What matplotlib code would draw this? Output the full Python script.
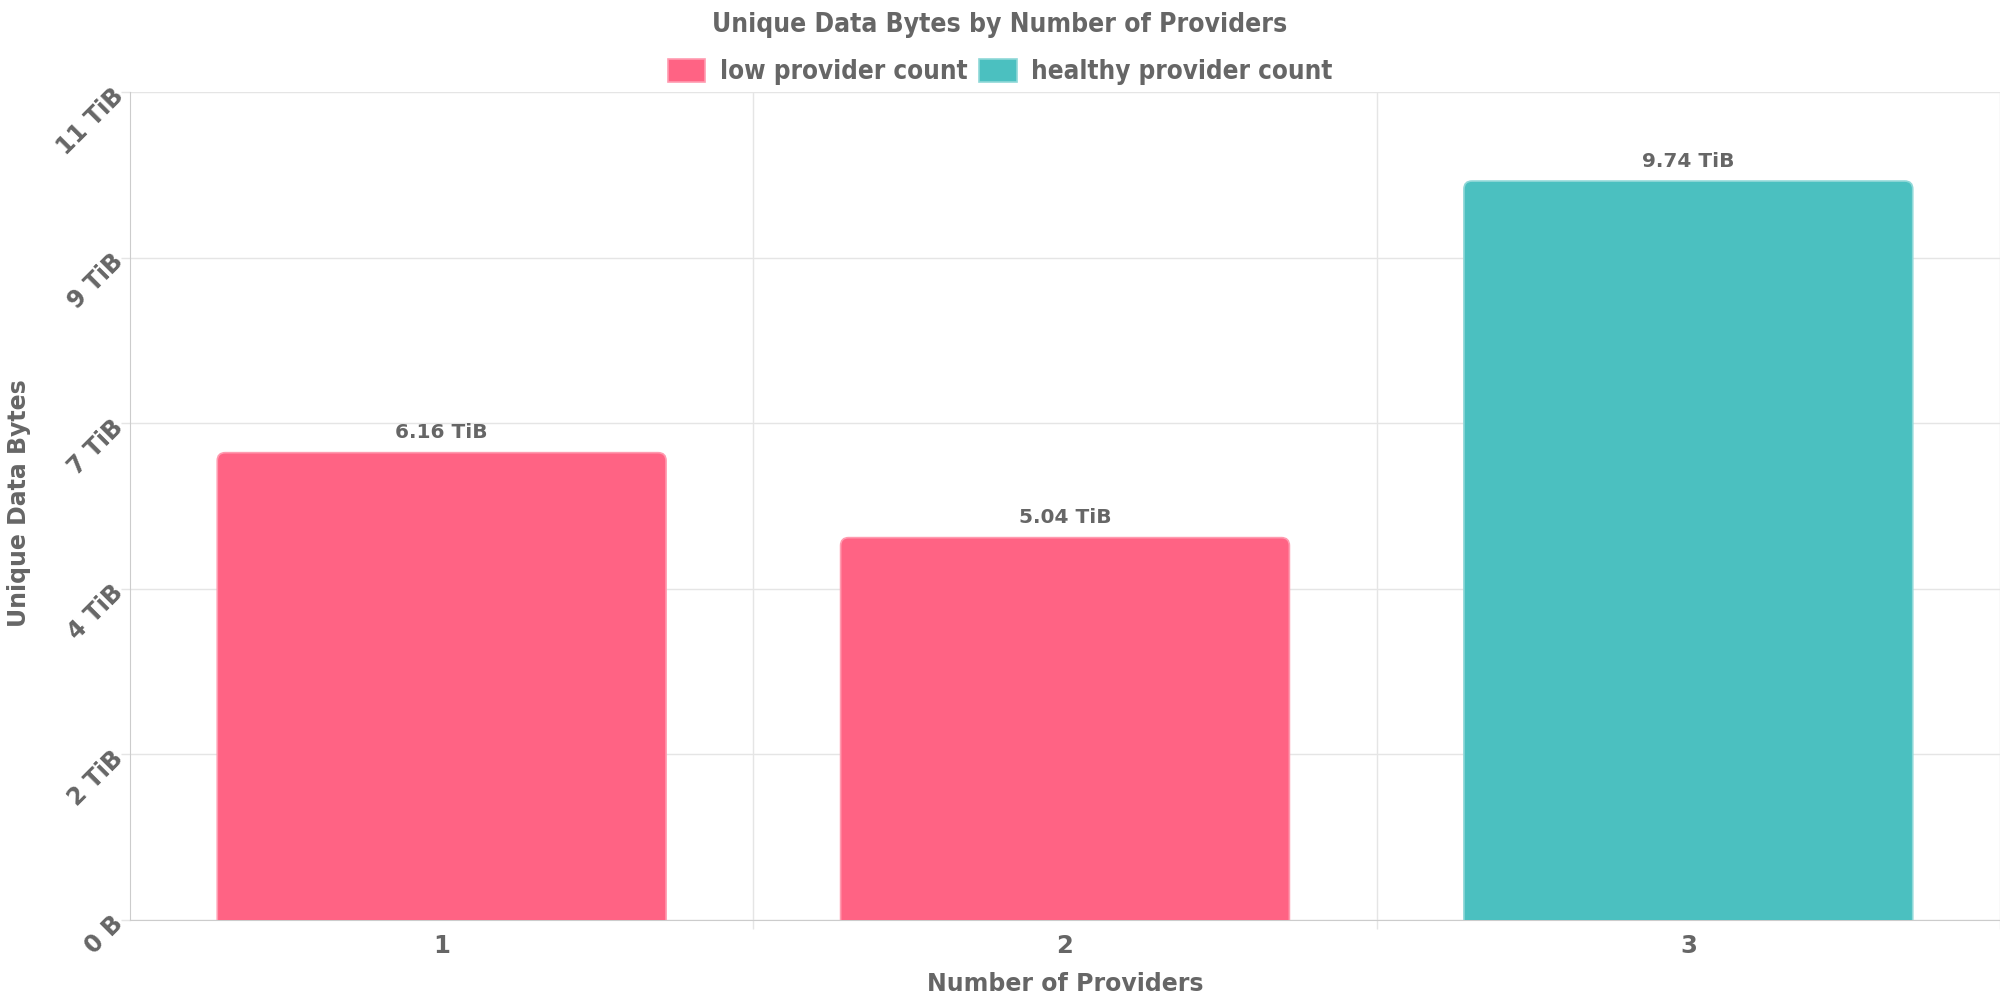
import matplotlib
matplotlib.use("Agg")
import matplotlib.pyplot as plt
from matplotlib.patches import FancyBboxPatch, Patch
from matplotlib.ticker import FixedLocator
from matplotlib.transforms import ScaledTranslation

# data
providers = ["1", "2", "3"]
unique_tib = [6.16, 5.04, 9.74]
groups = ["low provider count", "low provider count", "healthy provider count"]
# axis ticks are round TB values (1e12 bytes), shown as TiB
y_ticks_tb = [0, 2.4, 4.8, 7.2, 9.6, 12]
y_tick_labels = ["0 B", "2 TiB", "4 TiB", "7 TiB", "9 TiB", "11 TiB"]

TIB_PER_TB = 1e12 / 2 ** 40
y_ticks = [t * TIB_PER_TB for t in y_ticks_tb]
y_max = y_ticks[-1]

colors = {"low provider count": "#ff6384", "healthy provider count": "#4bc0c0"}
edges = {"low provider count": "#ff9bb0", "healthy provider count": "#8fd8d8"}
TXT = "#666666"
GRID = "#e5e5e5"

plt.rcParams["font.family"] = ["DejaVu Sans"]
plt.rcParams["font.weight"] = "bold"

fig = plt.figure(figsize=(20, 10), dpi=100)
ax = fig.add_axes([0.065, 0.08, 0.935, 0.828])

ax.set_xlim(0.5, 3.5)
ax.set_ylim(0, y_max)

# rounded corner size in data units (about 8 px)
ax_w_px = 0.935 * 2000
ax_h_px = 0.828 * 1000
rx = 8 * 3.0 / ax_w_px
aspect = (y_max / ax_h_px) / (3.0 / ax_w_px)

bar_w = 0.72
for i, (v, g) in enumerate(zip(unique_tib, groups)):
    x = i + 1
    # box extends below the axis so only the top corners show rounded
    p = FancyBboxPatch((x - bar_w / 2, -1), bar_w, v + 1,
                       boxstyle="round,pad=0,rounding_size=%f" % rx,
                       mutation_aspect=aspect,
                       facecolor=colors[g], edgecolor=edges[g], linewidth=1.2,
                       zorder=3, clip_on=True)
    ax.add_patch(p)
    ax.annotate("%.2f TiB" % v, (x, v), xytext=(0, 7.5), textcoords="offset points",
                ha="center", va="bottom", fontsize=14.5, color=TXT, fontweight="bold")

# axes and grid
ax.yaxis.set_major_locator(FixedLocator(y_ticks))
ax.set_yticklabels(y_tick_labels, rotation=45, ha="right", va="center",
                   rotation_mode="anchor", fontsize=17, color=TXT)
shift = ScaledTranslation(2 / 100, -4 / 100, fig.dpi_scale_trans)
for lab in ax.get_yticklabels():
    lab.set_transform(lab.get_transform() + shift)
ax.set_xticks([1, 2, 3])
ax.set_xticklabels(providers, fontsize=17.5, color=TXT)
ax.set_xticks([1.5, 2.5, 3.5], minor=True)
ax.tick_params(axis="x", which="major", length=0, pad=10)
ax.tick_params(axis="x", which="minor", length=6.5, color=GRID, width=1)
ax.tick_params(axis="y", length=6.5, color=GRID, width=1, pad=1)
ax.grid(True, axis="y", color=GRID, linewidth=1, zorder=0)
ax.grid(True, axis="x", which="minor", color=GRID, linewidth=1, zorder=0)
for s in ["top", "right"]:
    ax.spines[s].set_visible(False)
ax.spines["left"].set_color("#cccccc")
ax.spines["bottom"].set_color("#cccccc")
ax.set_axisbelow(True)

ax.set_xlabel("Number of Providers", fontsize=17, color=TXT, fontweight="bold", labelpad=10)
fig.text(0.0095, 0.497, "Unique Data Bytes", rotation=90, ha="center", va="center",
         fontsize=17, color=TXT, fontweight="bold")

fig.text(0.5, 0.975, "Unique Data Bytes by Number of Providers", ha="center", va="center",
         fontsize=19, color=TXT, fontweight="bold", fontstretch="condensed")

handles = [Patch(facecolor=colors[k], edgecolor=edges[k], linewidth=1.2) for k in colors]
leg = fig.legend(handles, list(colors), loc="center", bbox_to_anchor=(0.5, 0.928), ncol=2,
                 frameon=False, handlelength=1.47, handleheight=1.0, handletextpad=0.55,
                 columnspacing=0.45,
                 prop={"size": 18.6, "weight": "bold", "stretch": "condensed"})
for t in leg.get_texts():
    t.set_color(TXT)

fig.savefig("out.png", dpi=100)
